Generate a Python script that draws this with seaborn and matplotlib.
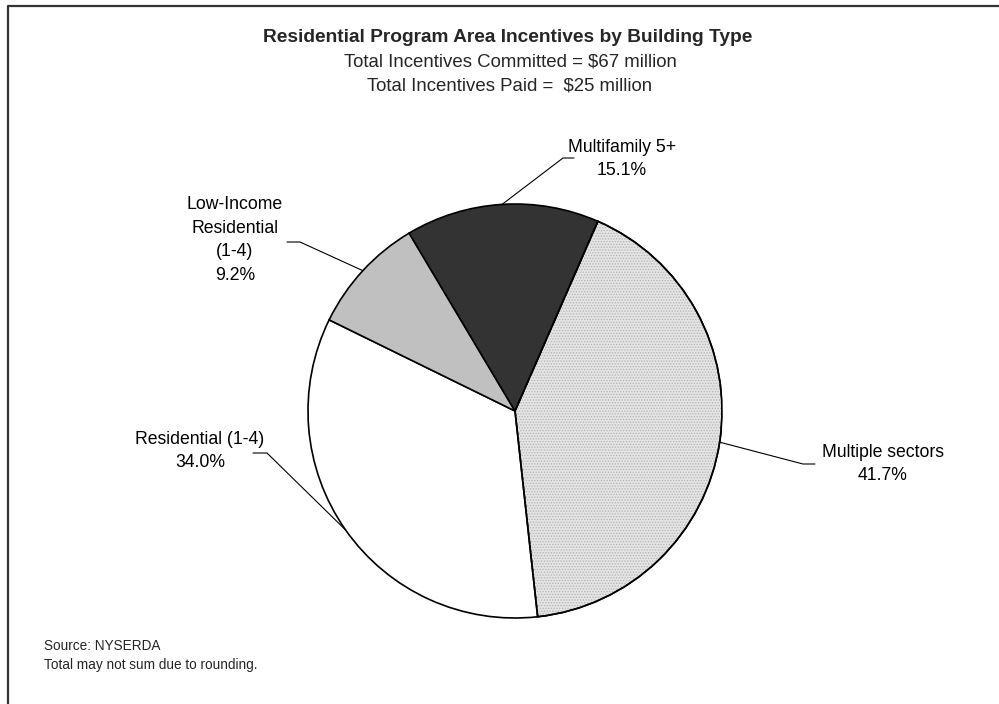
import numpy as np
import matplotlib
matplotlib.use("Agg")
import matplotlib.pyplot as plt
from matplotlib.lines import Line2D
from matplotlib.patches import Wedge
import seaborn as sns

# Share of residential incentives by building type (percent)
categories = ["Multiple sectors", "Residential (1-4)", "Low-Income\nResidential\n(1-4)", "Multifamily 5+"]
shares = [41.7, 34.0, 9.2, 15.1]
slice_colors = ["#e4e4e4", "#ffffff", "#c0c0c0", "#333333"]

title = "Residential Program Area Incentives by Building Type"
subtitle = ["Total Incentives Committed = $67 million", "Total Incentives Paid =  $25 million"]
footnotes = ["Source: NYSERDA", "Total may not sum due to rounding."]

sns.set_theme(style="white")
plt.rcParams["font.family"] = ["Liberation Sans", "DejaVu Sans"]
plt.rcParams["hatch.linewidth"] = 0.6

W, H = 999, 704
fig = plt.figure(figsize=(W / 100, H / 100), dpi=100)
fig.patch.set_facecolor("white")

# pie geometry in pixels (from top-left)
cx, cy, R = 515, 411, 207
ax = fig.add_axes([(cx - R) / W, (H - cy - R) / H, 2 * R / W, 2 * R / H])

palette = sns.color_palette(slice_colors)
wedges, _ = ax.pie(shares, colors=palette, startangle=66.4, counterclock=False,
                   radius=1.0, wedgeprops=dict(edgecolor="black", linewidth=1.2))
ax.set_xlim(-1, 1)
ax.set_ylim(-1, 1)
ax.set_aspect("equal")
ax.axis("off")

# fine dotted texture on the "Multiple sectors" slice
w0 = wedges[0]
ax.add_patch(Wedge((0, 0), 1.0, w0.theta1, w0.theta2, facecolor="none",
                   edgecolor="#b4b4b4", linewidth=0, hatch="......", zorder=w0.get_zorder() + 0.1))
ax.add_patch(Wedge((0, 0), 1.0, w0.theta1, w0.theta2, facecolor="none",
                   edgecolor="black", linewidth=1.2, zorder=w0.get_zorder() + 0.2))


def px(x, y):
    """pixel position (from top-left) -> data coordinates of the pie axes"""
    return (x - cx) / R, (cy - y) / R


# elbow of leader line, end of horizontal stub, label centre (pixels)
label_layout = [
    ((803, 464), (815, 464), (883, 464)),
    ((267, 453), (253, 453), (200, 451)),
    ((300, 242), (287, 242), (235, 240)),
    ((563, 158), (574, 158), (622, 159)),
]

for w, name, val, (elbow, stub, ctr) in zip(wedges, categories, shares, label_layout):
    mid = np.deg2rad((w.theta1 + w.theta2) / 2)
    ex, ey = np.cos(mid), np.sin(mid)
    bx, by = px(*elbow)
    sx, sy = px(*stub)
    ax.plot([ex, bx, sx], [ey, by, sy], color="black", lw=0.8, clip_on=False, zorder=5)
    tx, ty = px(*ctr)
    ax.text(tx, ty, f"{name}\n{val:.1f}%", ha="center", va="center", fontsize=12.7,
            linespacing=1.52, color="black", clip_on=False)

# titles
fig.text(508 / W, 1 - 37 / H, title, ha="center", va="center", fontsize=13.8, fontweight="bold")
fig.text(510 / W, 1 - 62 / H, subtitle[0], ha="center", va="center", fontsize=13.4)
fig.text(510 / W, 1 - 86 / H, subtitle[1], ha="center", va="center", fontsize=13.4)

# footnotes
fig.text(44 / W, 1 - 646 / H, footnotes[0], ha="left", va="center", fontsize=9.8)
fig.text(44 / W, 1 - 665 / H, footnotes[1], ha="left", va="center", fontsize=9.8)

# chart frame (top and left edges)
fig.add_artist(Line2D([8 / W, 8 / W, 1.0], [0.0, 1 - 6 / H, 1 - 6 / H],
                      transform=fig.transFigure, color="#333333", lw=1.6))

fig.savefig("out.png", dpi=100, facecolor="white")
